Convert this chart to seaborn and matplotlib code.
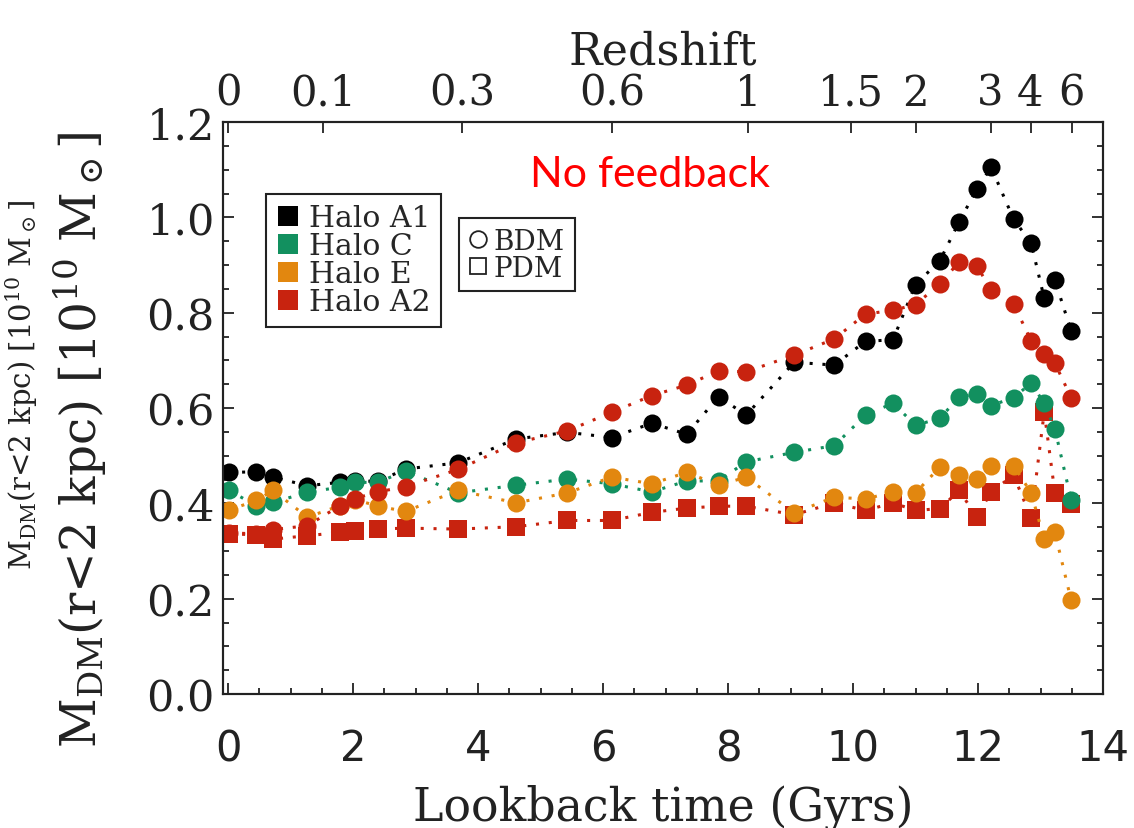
import numpy as np
import pandas as pd
import matplotlib
matplotlib.use("Agg")
import matplotlib.pyplot as plt
import seaborn as sns
from matplotlib.lines import Line2D
from matplotlib.ticker import MultipleLocator, FormatStrFormatter

# ---------------- data ----------------
lookback = [0.02, 0.45, 0.72, 1.27, 1.79, 2.03, 2.40, 2.84, 3.68, 4.61,
            5.43, 6.14, 6.78, 7.34, 7.85, 8.29, 9.06, 9.70, 10.20, 10.64,
            11.00, 11.39, 11.70, 11.98, 12.21, 12.57, 12.85, 13.06, 13.23, 13.49]

halo_a1_bdm = [0.465, 0.466, 0.455, 0.437, 0.444, 0.447, 0.446, 0.472, 0.485, 0.535,
               0.549, 0.538, 0.568, 0.545, 0.624, 0.585, 0.696, 0.690, 0.740, 0.743,
               0.859, 0.909, 0.991, 1.059, 1.105, 0.996, 0.946, 0.830, 0.868, 0.762]
halo_c_bdm = [0.427, 0.395, 0.402, 0.423, 0.434, 0.444, 0.444, 0.468, 0.422, 0.438,
              0.451, 0.441, 0.424, 0.447, 0.447, 0.487, 0.507, 0.521, 0.585, 0.610,
              0.564, 0.578, 0.624, 0.629, 0.605, 0.622, 0.652, 0.610, 0.556, 0.408]
halo_e_bdm = [0.386, 0.406, 0.427, 0.371, 0.395, 0.408, 0.394, 0.383, 0.427, 0.401,
              0.422, 0.455, 0.441, 0.465, 0.438, 0.455, 0.380, 0.413, 0.409, 0.424,
              0.422, 0.476, 0.459, 0.451, 0.479, 0.479, 0.422, 0.325, 0.339, 0.197]
halo_a2_bdm = [0.338, 0.336, 0.345, 0.353, 0.395, 0.410, 0.424, 0.435, 0.471, 0.527,
               0.552, 0.591, 0.626, 0.648, 0.678, 0.676, 0.711, 0.745, 0.797, 0.805,
               0.817, 0.860, 0.907, 0.898, 0.848, 0.818, 0.741, 0.713, 0.694, 0.622]
halo_a2_pdm = [0.336, 0.334, 0.325, 0.332, 0.339, 0.343, 0.346, 0.348, 0.346, 0.351,
               0.364, 0.364, 0.381, 0.390, 0.394, 0.394, 0.376, 0.401, 0.385, 0.401,
               0.385, 0.389, 0.427, 0.371, 0.424, 0.459, 0.369, 0.592, 0.422, 0.399]

halo_names = ["Halo A1", "Halo C", "Halo E", "Halo A2"]
halo_colors = ["#000000", "#12905f", "#e2870f", "#c8230f"]

redshift_labels = ["0", "0.1", "0.3", "0.6", "1", "1.5", "2", "3", "4", "6"]
redshift_lookback = [0.0, 1.52, 3.75, 6.15, 8.32, 9.97, 11.0, 12.2, 12.84, 13.5]

# long-form table
rows = []
for name, vals, kind in [("Halo A2", halo_a2_pdm, "PDM"),
                         ("Halo A1", halo_a1_bdm, "BDM"),
                         ("Halo C", halo_c_bdm, "BDM"),
                         ("Halo E", halo_e_bdm, "BDM"),
                         ("Halo A2", halo_a2_bdm, "BDM")]:
    for t, m in zip(lookback, vals):
        rows.append({"time": t, "mass": m, "halo": name, "kind": kind})
df = pd.DataFrame(rows)

# ---------------- style ----------------
sns.set_theme(style="ticks")
plt.rcParams["font.family"] = ["DejaVu Serif", "DejaVu Sans"]
plt.rcParams["mathtext.fontset"] = "dejavuserif"
plt.rcParams["axes.linewidth"] = 1.5
plt.rcParams["axes.edgecolor"] = "#222222"

fig = plt.figure(figsize=(11.34, 8.29), dpi=100)
ax = fig.add_axes([223 / 1134, 1 - 695 / 829, 880 / 1134, 572 / 829])

color_of = dict(zip(halo_names, halo_colors))
order = [("Halo A2", "PDM"), ("Halo A1", "BDM"), ("Halo C", "BDM"),
         ("Halo E", "BDM"), ("Halo A2", "BDM")]
for name, kind in order:
    sub = df[(df.halo == name) & (df.kind == kind)]
    marker = "s" if kind == "PDM" else "o"
    ms = 13.5 if kind == "PDM" else 13
    sns.lineplot(data=sub, x="time", y="mass", ax=ax, color=color_of[name],
                 marker=marker, markersize=ms, markeredgewidth=0,
                 linestyle=(0, (1, 3.2)), linewidth=2.2, sort=False,
                 estimator=None, legend=False)

ax.set_xlim(-0.08, 14.0)
ax.set_ylim(0, 1.2)
ax.xaxis.set_major_locator(MultipleLocator(2))
ax.xaxis.set_minor_locator(MultipleLocator(0.5))
ax.yaxis.set_major_locator(MultipleLocator(0.2))
ax.yaxis.set_minor_locator(MultipleLocator(0.05))
ax.yaxis.set_major_formatter(FormatStrFormatter("%.1f"))
ax.tick_params(which="both", direction="in", top=False, right=True,
               left=True, bottom=True, color="#222222", width=1.3)
ax.tick_params(which="major", length=8)
ax.tick_params(which="minor", length=4)
ax.tick_params(axis="x", which="major", labelsize=30, pad=24,
               labelfontfamily="DejaVu Sans", labelcolor="#222222")
ax.tick_params(axis="y", which="major", labelsize=31, pad=6,
               labelfontfamily="DejaVu Serif", labelcolor="#222222")
ax.set_xlabel("Lookback time (Gyrs)", fontsize=33, labelpad=10, color="#222222")
ax.set_ylabel("")

# top redshift axis
ax2 = ax.twiny()
ax2.set_xlim(ax.get_xlim())
ax2.set_xticks(redshift_lookback)
ax2.set_xticklabels(redshift_labels)
ax2.xaxis.set_minor_locator(plt.NullLocator())
ax2.tick_params(axis="x", direction="in", length=8, width=1.3, color="#222222",
                labelsize=30, pad=6, labelcolor="#222222")
ax2.set_xlabel("Redshift", fontsize=32, labelpad=6, color="#222222")

# y label (the reference shows a smaller duplicate of it further left)
ylab = r"M$_{\rm DM}$(r<2 kpc) [10$^{10}$ M$_\odot$]"
fig.text(22 / 1134, 1 - 385 / 829, ylab, rotation=90, ha="center", va="center",
         fontsize=21, color="#222222")
fig.text(80 / 1134, 1 - 440 / 829, ylab, rotation=90, ha="center", va="center",
         fontsize=35, color="#222222")

# annotation
ax.text(6.75, 1.091, "No feedback", color="#ff0000",
        fontsize=31, fontfamily="Lato", ha="center", va="center")

# legends
halo_handles = [Line2D([], [], marker="s", linestyle="none", markersize=14,
                       markerfacecolor=c, markeredgewidth=0, color=c)
                for c in halo_colors]
leg1 = ax.legend(halo_handles, halo_names, loc="upper left",
                 bbox_to_anchor=(266 / 1134, 1 - 195 / 829),
                 bbox_transform=fig.transFigure, frameon=True, fancybox=False,
                 framealpha=1, edgecolor="#222222", fontsize=21.5,
                 handlelength=0.8, handletextpad=0.3, labelspacing=0.0,
                 borderpad=0.35, borderaxespad=0)
leg1.get_frame().set_linewidth(1.5)
ax.add_artist(leg1)

kind_handles = [Line2D([], [], marker="o", linestyle="none", markersize=12,
                       markerfacecolor="white", markeredgecolor="#222222",
                       markeredgewidth=1.3),
                Line2D([], [], marker="s", linestyle="none", markersize=12,
                       markerfacecolor="white", markeredgecolor="#222222",
                       markeredgewidth=1.3)]
leg2 = ax.legend(kind_handles, ["BDM", "PDM"], loc="upper left",
                 bbox_to_anchor=(459 / 1134, 1 - 219 / 829),
                 bbox_transform=fig.transFigure, frameon=True, fancybox=False,
                 framealpha=1, edgecolor="#222222", fontsize=20,
                 handlelength=0.7, handletextpad=0.2, labelspacing=0.0,
                 borderpad=0.35, borderaxespad=0)
leg2.get_frame().set_linewidth(1.5)

fig.savefig("out.png", dpi=100)
